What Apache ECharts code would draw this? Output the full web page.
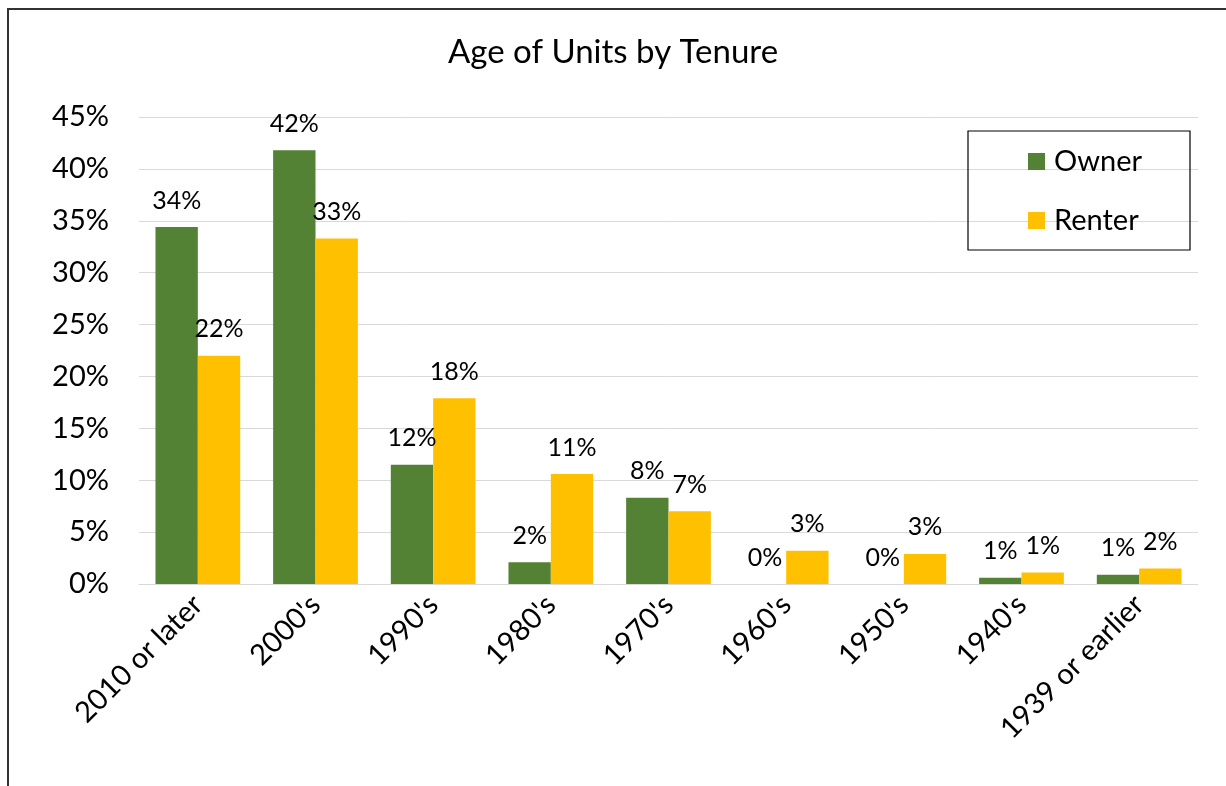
<!DOCTYPE html>
<html>
<head>
<meta charset="utf-8">
<script src="https://cdn.jsdelivr.net/npm/echarts@6/dist/echarts.min.js"></script>
<style>
  html, body { margin: 0; padding: 0; background: #fff; }
  #main { width: 1226px; height: 786px; }
</style>
</head>
<body>
<div id="main"></div>
<script>
const categories = ['2010 or later', "2000's", "1990's", "1980's", "1970's", "1960's", "1950's", "1940's", '1939 or earlier']
const owner = [34.4, 41.8, 11.5, 2.1, 8.3, 0, 0, 0.6, 0.9]
const renter = [22.0, 33.3, 17.9, 10.6, 7.0, 3.2, 2.9, 1.1, 1.5]
const yTicks = [0, 5, 10, 15, 20, 25, 30, 35, 40, 45]

const font = 'Lato, "Open Sans", sans-serif'

let option = {
  animation: false,
  backgroundColor: '#fff',
  title: {
    text: 'Age of Units by Tenure',
    left: 'center',
    top: 31,
    textStyle: { fontFamily: font, fontWeight: 'normal', fontSize: 33, color: '#000' }
  },
  legend: {
    orient: 'vertical',
    left: 1023,
    top: 142,
    itemWidth: 17,
    itemHeight: 17,
    itemGap: 30,
    icon: 'rect',
    textStyle: { fontFamily: font, fontSize: 29, color: '#000', padding: [0, 0, 0, 4] }
  },
  grid: { left: 139, right: 28, top: 117, bottom: 202 },
  xAxis: {
    type: 'category',
    data: categories,
    axisLine: { lineStyle: { color: '#d9d9d9', width: 1 } },
    axisTick: { show: false },
    axisLabel: { rotate: 45, interval: 0, fontFamily: font, fontSize: 29, color: '#000', margin: 16 }
  },
  yAxis: {
    type: 'value',
    min: yTicks[0],
    max: yTicks[yTicks.length - 1],
    interval: 5,
    axisLine: { show: false },
    axisTick: { show: false },
    splitLine: { lineStyle: { color: '#d9d9d9', width: 1 } },
    axisLabel: { formatter: '{value}%', fontFamily: font, fontSize: 29, color: '#000', margin: 30 }
  },
  series: [
    {
      name: 'Owner',
      type: 'bar',
      data: owner,
      barGap: '0%',
      barCategoryGap: '28%',
      itemStyle: { color: '#548235' },
      label: {
        show: true, position: 'top', distance: 14,
        formatter: p => Math.round(p.value) + '%',
        fontFamily: font, fontSize: 25, color: '#000'
      }
    },
    {
      name: 'Renter',
      type: 'bar',
      data: renter,
      itemStyle: { color: '#ffc000' },
      label: {
        show: true, position: 'top', distance: 14,
        formatter: p => Math.round(p.value) + '%',
        fontFamily: font, fontSize: 25, color: '#000'
      }
    }
  ],
  graphic: [
    { type: 'rect', shape: { x: 968, y: 131, width: 222, height: 119 }, style: { fill: 'none', stroke: '#000', lineWidth: 1.2 }, z: 10 },
    { type: 'polyline', shape: { points: [[8, 786], [8, 9], [1226, 9]] }, style: { fill: 'none', stroke: '#333', lineWidth: 2 }, z: 10 }
  ]
}

let chart = echarts.init(document.getElementById('main'))
chart.setOption(option)
</script>
</body>
</html>
